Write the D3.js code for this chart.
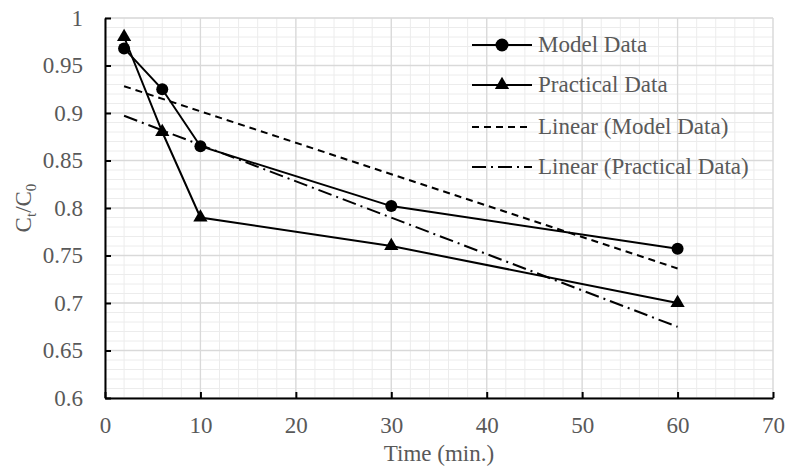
<!DOCTYPE html>
<html><head><meta charset="utf-8">
<script src="https://cdn.jsdelivr.net/npm/d3@7"></script>
<style>body{margin:0;background:#fff;}</style>
</head>
<body><svg id="c" width="786" height="472" font-family="Liberation Serif"></svg>
<script>
const time = [2, 6, 10, 30, 60];
const modelData = [0.968, 0.925, 0.865, 0.802, 0.757];
const practicalData = [0.980, 0.880, 0.790, 0.760, 0.700];
const xTicks = [0, 10, 20, 30, 40, 50, 60, 70];
const yTicks = [0.6, 0.65, 0.7, 0.75, 0.8, 0.85, 0.9, 0.95, 1];
const legendLabels = ["Model Data", "Practical Data", "Linear (Model Data)", "Linear (Practical Data)"];

const FONT = "Liberation Serif";
const TXT = "#595959";
const FS = 23;
const svg = d3.select("#c");
const x = d3.scaleLinear().domain([0, 70]).range([105, 773]);
const y = d3.scaleLinear().domain([0.6, 1]).range([398, 18]);

// minor grid
const g = svg.append("g");
g.selectAll(".mx").data(d3.range(0, 71, 2)).join("line")
  .attr("x1", d => x(d)).attr("x2", d => x(d)).attr("y1", y(0.6)).attr("y2", y(1))
  .attr("stroke", "#ececec").attr("stroke-width", 1);
g.selectAll(".my").data(d3.range(60, 101, 1).map(v => v / 100)).join("line")
  .attr("y1", d => y(d)).attr("y2", d => y(d)).attr("x1", x(0)).attr("x2", x(70))
  .attr("stroke", "#ececec").attr("stroke-width", 1);
// major grid
g.selectAll(".Mx").data(xTicks).join("line")
  .attr("x1", d => x(d)).attr("x2", d => x(d)).attr("y1", y(0.6)).attr("y2", y(1))
  .attr("stroke", "#d9d9d9").attr("stroke-width", 1.3);
g.selectAll(".My").data(yTicks).join("line")
  .attr("y1", d => y(d)).attr("y2", d => y(d)).attr("x1", x(0)).attr("x2", x(70))
  .attr("stroke", "#d9d9d9").attr("stroke-width", 1.3);

// axes
const xAxis = d3.axisBottom(x).tickValues(xTicks).tickSizeInner(-6).tickSizeOuter(0).tickPadding(19).tickFormat(d3.format("d"));
const yAxis = d3.axisLeft(y).tickValues(yTicks).tickSizeInner(-6).tickSizeOuter(0).tickPadding(22).tickFormat(d => d === 1 ? "1" : d3.format("")(d));
const ax = svg.append("g").attr("transform", `translate(0,${y(0.6)})`).call(xAxis);
const ay = svg.append("g").attr("transform", `translate(${x(0)},0)`).call(yAxis);
[ax, ay].forEach(a => {
  a.attr("font-family", FONT).attr("font-size", FS);
  a.select(".domain").attr("stroke", "#000").attr("stroke-width", 2);
  a.selectAll(".tick line").attr("stroke", "#000").attr("stroke-width", 2);
  a.selectAll(".tick text").attr("fill", TXT).attr("font-family", FONT).attr("font-size", FS);
});

// trend lines (least squares)
function fit(xs, ys) {
  const mx = d3.mean(xs), my = d3.mean(ys);
  const sxy = d3.sum(xs, (v, i) => (v - mx) * (ys[i] - my));
  const sxx = d3.sum(xs, v => (v - mx) * (v - mx));
  const b = sxy / sxx, a = my - b * mx;
  return v => a + b * v;
}
const fm = fit(time, modelData), fp = fit(time, practicalData);
const x0 = d3.min(time), x1 = d3.max(time);
svg.append("line").attr("x1", x(x0)).attr("y1", y(fm(x0))).attr("x2", x(x1)).attr("y2", y(fm(x1)))
  .attr("stroke", "#000").attr("stroke-width", 2).attr("stroke-dasharray", "7,5");
svg.append("line").attr("x1", x(x0)).attr("y1", y(fp(x0))).attr("x2", x(x1)).attr("y2", y(fp(x1)))
  .attr("stroke", "#000").attr("stroke-width", 2).attr("stroke-dasharray", "14,5,2,5");

const line = d3.line().x(d => x(d[0])).y(d => y(d[1]));
const md = time.map((t, i) => [t, modelData[i]]);
const pd = time.map((t, i) => [t, practicalData[i]]);
svg.append("path").attr("d", line(md)).attr("fill", "none").attr("stroke", "#000").attr("stroke-width", 2);
svg.append("path").attr("d", line(pd)).attr("fill", "none").attr("stroke", "#000").attr("stroke-width", 2);
svg.selectAll(".cm").data(md).join("circle").attr("cx", d => x(d[0])).attr("cy", d => y(d[1])).attr("r", 6).attr("fill", "#000");
const tri = d3.symbol().type(d3.symbolTriangle).size(88);
svg.selectAll(".tp").data(pd).join("path").attr("d", tri).attr("transform", d => `translate(${x(d[0])},${y(d[1])})`).attr("fill", "#000");

// legend
const lg = svg.append("g");
const rows = [45, 85, 127, 167];
const lx0 = 472, lx1 = 532;
legendLabels.forEach((lab, i) => {
  const ly = rows[i];
  const ln = lg.append("line").attr("x1", lx0).attr("x2", lx1).attr("y1", ly).attr("y2", ly)
    .attr("stroke", "#000").attr("stroke-width", 2);
  if (i === 2) ln.attr("stroke-dasharray", "7,5").attr("x2", 528);
  if (i === 3) ln.attr("stroke-dasharray", "14,5,2,5");
  if (i === 0) lg.append("circle").attr("cx", 502).attr("cy", ly).attr("r", 6.5).attr("fill", "#000");
  if (i === 1) lg.append("path").attr("d", tri).attr("transform", `translate(502,${ly})`).attr("fill", "#000");
  lg.append("text").attr("x", 538).attr("y", ly + 7).attr("font-family", FONT).attr("font-size", FS)
    .attr("fill", TXT).text(lab);
});

// axis titles
svg.append("text").attr("x", (x(0) + x(70)) / 2).attr("y", 461).attr("text-anchor", "middle")
  .attr("font-family", FONT).attr("font-size", FS).attr("fill", TXT).text("Time (min.)");
const yt = svg.append("text").attr("transform", `translate(31,${y(0.8)}) rotate(-90)`).attr("text-anchor", "middle")
  .attr("font-family", FONT).attr("font-size", FS).attr("fill", TXT);
yt.append("tspan").text("C");
yt.append("tspan").attr("dy", 5).attr("font-size", 15).text("t");
yt.append("tspan").attr("dy", -5).text("/C");
yt.append("tspan").attr("dy", 5).attr("font-size", 15).text("0");
</script></body></html>
